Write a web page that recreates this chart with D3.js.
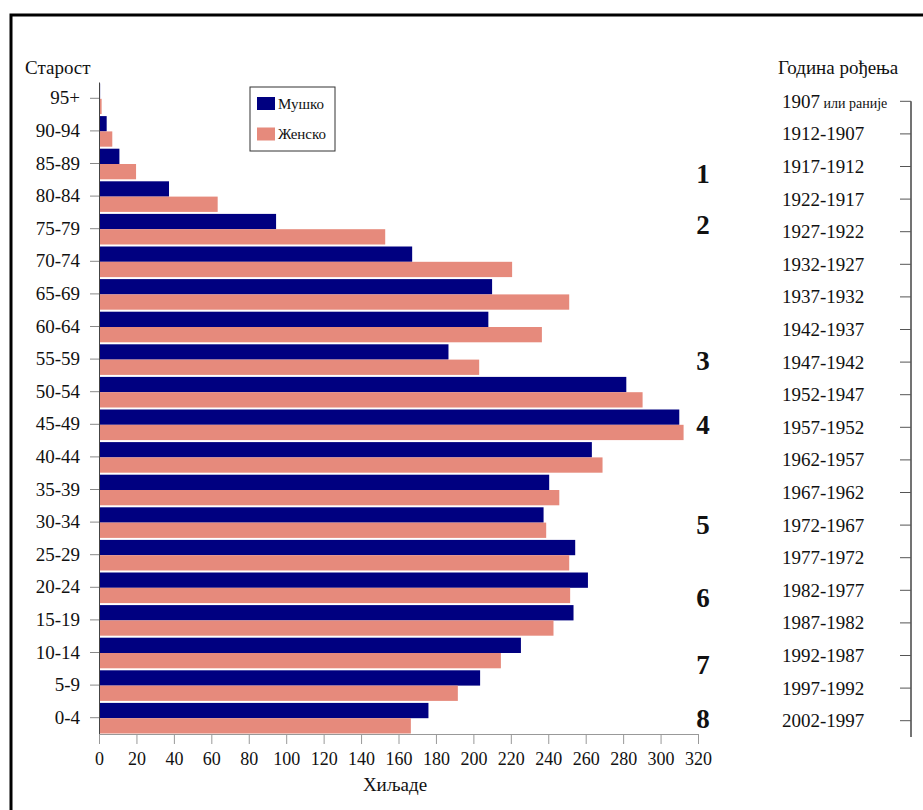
<!DOCTYPE html>
<html>
<head>
<meta charset="utf-8">
<script src="https://cdn.jsdelivr.net/npm/d3@7"></script>
<style>
  body { margin: 0; background: #fff; }
  text { font-family: "Liberation Serif", "DejaVu Serif", serif; fill: #111; }
</style>
</head>
<body>
<div class="chart"></div>
<script>
// age groups, top to bottom
var ageGroups = ["95+", "90-94", "85-89", "80-84", "75-79", "70-74", "65-69", "60-64", "55-59", "50-54",
  "45-49", "40-44", "35-39", "30-34", "25-29", "20-24", "15-19", "10-14", "5-9", "0-4"];
var birthYears = ["1907 или раније", "1912-1907", "1917-1912", "1922-1917", "1927-1922", "1932-1927",
  "1937-1932", "1942-1937", "1947-1942", "1952-1947", "1957-1952", "1962-1957", "1967-1962",
  "1972-1967", "1977-1972", "1982-1977", "1987-1982", "1992-1987", "1997-1992", "2002-1997"];
// thousands
var male = [0.6, 4.1, 10.9, 37.4, 94.6, 167.3, 210, 208, 186.7, 281.7,
  310, 263.3, 240.5, 237.5, 254.4, 261.2, 253.5, 225.4, 203.6, 176];
var female = [1.4, 7.1, 19.8, 63.4, 152.9, 220.7, 251.2, 236.6, 203.1, 290.4,
  312.3, 269, 245.9, 238.9, 251.2, 251.7, 242.8, 214.7, 191.7, 166.6];
var xTicks = [0, 20, 40, 60, 80, 100, 120, 140, 160, 180, 200, 220, 240, 260, 280, 300, 320];
var seriesNames = ["Мушко", "Женско"];
// numbered notes and the age group they sit next to
var noteLabels = ["1", "2", "3", "4", "5", "6", "7", "8"];
var noteGroups = ["85-89", "75-79", "55-59", "45-49", "30-34", "20-24", "10-14", "0-4"];

var colors = ["#000080", "#e68a7c"];
var noteShift = [0.3, -0.14, 0.03, 0.02, 0.09, 0.32, 0.38, 0.03];

var svgWidth = 923;
var svgHeight = 810;

var svg = d3.select(".chart")
  .append("svg")
  .attr("width", svgWidth)
  .attr("height", svgHeight);

// frame (only top and left edges are visible)
svg.append("path")
  .attr("d", "M11," + svgHeight + "V15H" + svgWidth)
  .attr("fill", "none")
  .attr("stroke", "#000")
  .attr("stroke-width", 3);

var data = ageGroups.map(function (a, i) {
  return { age: a, male: male[i], female: female[i] };
});

var x = d3.scaleLinear().domain([0, 320]).range([99, 698]);
var y = d3.scaleBand().domain(ageGroups).range([82, 734]);
var yRight = d3.scaleBand().domain(birthYears).range([85, 737]);
var bw = y.bandwidth();

// bars
var rows = svg.append("g").selectAll("g")
  .data(data)
  .enter()
  .append("g")
  .attr("transform", d => `translate(0, ${y(d.age)})`);

rows.append("rect")
  .attr("x", x(0))
  .attr("y", 1.5)
  .attr("width", d => x(d.male) - x(0))
  .attr("height", bw / 2 - 1)
  .attr("fill", colors[0]);

rows.append("rect")
  .attr("x", x(0))
  .attr("y", bw / 2 + 0.5)
  .attr("width", d => x(d.female) - x(0))
  .attr("height", bw / 2 - 1)
  .attr("fill", colors[1]);

// left axis
var leftAxis = svg.append("g")
  .attr("transform", `translate(${x(0)}, 0)`)
  .call(d3.axisLeft(y).tickSize(9).tickSizeOuter(0).tickPadding(10));
leftAxis.select(".domain").attr("stroke", "#444");
leftAxis.selectAll(".tick line").attr("stroke", "#888");
leftAxis.selectAll("text")
  .style("font-family", "'Liberation Serif', serif")
  .style("font-size", "19px")
  .attr("fill", "#111");

// bottom axis
var bottomAxis = svg.append("g")
  .attr("transform", `translate(0, ${y.range()[1]})`)
  .call(d3.axisBottom(x).tickValues(xTicks).tickSize(10).tickSizeOuter(0).tickPadding(8));
bottomAxis.select(".domain").attr("stroke", "#999");
bottomAxis.selectAll(".tick line").attr("stroke", "#999");
bottomAxis.selectAll("text")
  .style("font-family", "'Liberation Serif', serif")
  .style("font-size", "18px")
  .attr("fill", "#111");

// right axis: birth years
var rightX = 911;
var rightAxis = svg.append("g")
  .attr("transform", `translate(${rightX}, 0)`)
  .call(d3.axisLeft(yRight).tickSize(11).tickSizeOuter(0));
rightAxis.select(".domain")
  .attr("d", `M0,${yRight(birthYears[0]) + yRight.bandwidth() / 2}V${yRight.range()[1]}`)
  .attr("stroke", "#444")
  .attr("stroke-width", 1.5);
rightAxis.selectAll(".tick line").attr("stroke", "#555");
rightAxis.selectAll("text").remove();
rightAxis.selectAll(".tick")
  .append("text")
  .attr("x", 782 - rightX)
  .attr("dy", "0.34em")
  .attr("text-anchor", "start")
  .style("font-size", "19px")
  .each(function (d) {
    var t = d3.select(this);
    var sp = d.indexOf(" ");
    if (sp < 0) {
      t.text(d);
    } else {
      t.append("tspan").text(d.slice(0, sp));
      t.append("tspan").style("font-size", "14px").text(d.slice(sp));
    }
  });

// axis titles
svg.append("text")
  .attr("x", 25)
  .attr("y", 74)
  .style("font-size", "19px")
  .text("Старост");

svg.append("text")
  .attr("x", 778)
  .attr("y", 74)
  .style("font-size", "19px")
  .text("Година рођења");

svg.append("text")
  .attr("x", 395)
  .attr("y", 791)
  .attr("text-anchor", "middle")
  .style("font-size", "19px")
  .text("Хиљаде");

// numbered notes
svg.append("g").selectAll("text")
  .data(noteLabels)
  .enter()
  .append("text")
  .attr("x", 703)
  .attr("y", (d, i) => y(noteGroups[i]) + bw / 2 + noteShift[i] * y.step())
  .attr("dy", "0.35em")
  .attr("text-anchor", "middle")
  .style("font-size", "27px")
  .style("font-weight", "bold")
  .text(d => d);

// legend
var legend = svg.append("g").attr("transform", "translate(250, 87)");
legend.append("rect")
  .attr("width", 85)
  .attr("height", 64)
  .attr("fill", "#fff")
  .attr("stroke", "#333");
var items = legend.selectAll("g")
  .data(seriesNames)
  .enter()
  .append("g")
  .attr("transform", (d, i) => `translate(7, ${10 + i * 30.5})`);
items.append("rect")
  .attr("width", 18)
  .attr("height", 13)
  .attr("fill", (d, i) => colors[i]);
items.append("text")
  .attr("x", 21)
  .attr("y", 11.5)
  .style("font-size", "15px")
  .text(d => d);
</script>
</body>
</html>
